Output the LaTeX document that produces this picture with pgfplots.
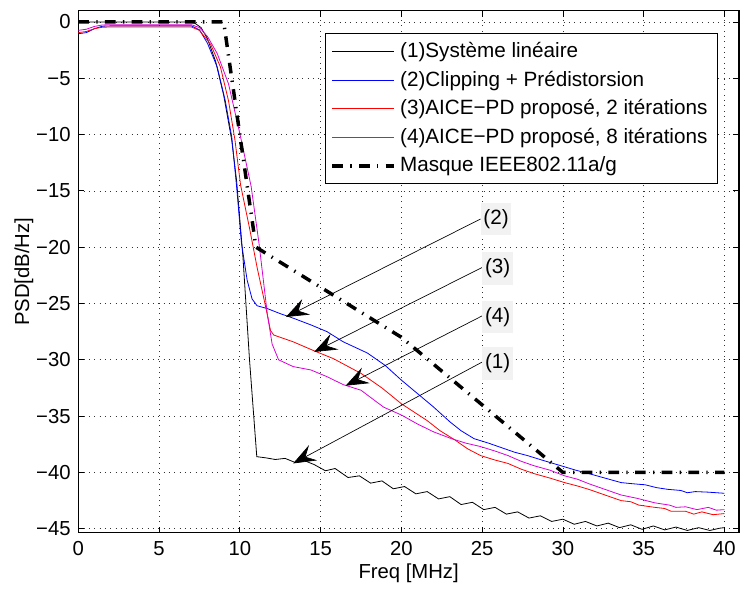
\documentclass[border=0pt]{standalone}
\usepackage{fontspec}
\setmainfont{Liberation Sans}
\usepackage{pgfplots}
\pgfplotsset{compat=1.18}
\usetikzlibrary{arrows.meta}
\definecolor{cblue}{RGB}{0,0,255}
\definecolor{cred}{RGB}{255,0,0}
\definecolor{pmagenta}{RGB}{215,0,215}
\definecolor{lblbg}{RGB}{242,242,242}
\newcommand{\ff}{\fontsize{15.2}{18}\selectfont}
\newcommand{\fl}{\fontsize{15.5}{18}\selectfont}
\begin{document}
\ff
\begin{tikzpicture}
\path[use as bounding box] (-58.7pt,-41.5pt) rectangle (501.5pt,399.5pt);
\begin{axis}[
  scale only axis, width=495.5pt, height=391.5pt,
  xmin=0, xmax=40.9, ymin=-45.35, ymax=1,
  xtick={0,5,...,40}, ytick={-45,-40,...,0},
  yticklabels={−45,−40,−35,−30,−25,−20,−15,−10,−5,0},
  /pgf/number format/assume math mode=true,
  tick label style={font=\ff},
  label style={font=\ff},
  xticklabel style={yshift=-1pt},
  yticklabel style={xshift=-0.5pt},
  grid=major,
  major grid style={black!80, line width=0.5pt, dash pattern=on 0.6pt off 3.4pt},
  axis line style={line width=0.8pt},
  tick style={black, line width=0.6pt},
  tick align=inside, major tick length=4.5pt,
  xlabel={Freq [MHz]}, ylabel={PSD[dB/Hz]},
  xlabel style={at={(axis description cs:0.5,-0.0772)}, anchor=center},
  ylabel style={at={(axis description cs:-0.0822,0.5)}, anchor=center},
  legend cell align=left,
  legend style={at={(0.9682,0.9567)}, anchor=north east, draw=black, line width=0.8pt,
    font=\fl, inner xsep=4pt, inner ysep=2.5pt, row sep=0pt,
    nodes={inner xsep=3.5pt, inner ysep=3.9pt}},
  legend image code/.code={\draw[#1] (0pt,0pt) -- (46pt,0pt);},
]
\addplot[color=black, draw=black, line width=0.6pt] coordinates {
(0,0) (6.8,0) (7.2,-0.1) (7.6,-0.5) (8.0,-1.5) (8.5,-3.5) (9.0,-6.5) (9.5,-10.5)
(9.8,-14.1) (10.2,-21) (10.6,-30) (11.05,-38.6)
(11.6,-38.7) (12.2,-38.85) (12.8,-38.75) (13.4,-39.1) (14.0,-38.95) (14.6,-39.3)
(15.3,-39.85) (15.9,-39.65) (16.7,-40.45) (17.4,-40.3) (18.1,-40.95) (18.8,-40.75)
(19.5,-41.45) (20.2,-41.25) (20.9,-41.9) (21.6,-41.7) (22.3,-42.35) (23.0,-42.15)
(23.7,-42.85) (24.4,-42.65) (25.1,-43.3) (25.8,-43.1) (26.5,-43.7) (27.2,-43.5)
(27.9,-44.05) (28.6,-43.85) (29.3,-44.35) (30.0,-44.15) (30.7,-44.6) (31.4,-44.35)
(32.1,-44.75) (32.8,-44.5) (33.5,-44.9) (34.2,-44.65) (34.9,-45.05) (35.6,-44.75)
(36.3,-45.1) (37.0,-44.85) (37.7,-45.15) (38.4,-44.9) (39.1,-45.15) (39.7,-44.95) (40.0,-44.9)
};
\addlegendentry{(1)Système linéaire}
\addplot[color=cblue, draw=cblue, line width=0.6pt] coordinates {
(0,-1.05) (0.5,-0.95) (1.0,-0.6) (1.5,-0.38) (2,-0.35) (7,-0.35) (7.5,-0.7)
(8.0,-1.9) (8.6,-4.0) (9.1,-7.0) (9.5,-10.2) (9.8,-14.6) (10.1,-19.6) (10.45,-22.9)
(10.76,-24.6) (11.07,-25.2) (11.7,-25.45) (12.5,-25.9) (13.3,-26.3) (14.4,-26.9)
(15.4,-27.5) (16.4,-28.4) (17.9,-29.4) (19.0,-30.5) (20.0,-31.8) (21.0,-33.0) (22.0,-34.2)
(23.0,-35.5) (23.7,-36.3) (24.5,-37.0) (25.4,-37.4) (26.2,-37.8) (27.0,-38.2) (27.8,-38.5)
(28.7,-38.9) (29.4,-39.2) (30.1,-39.5) (30.8,-39.8) (31.6,-40.1) (32.6,-40.5) (33.6,-40.9)
(34.3,-41.0) (35.1,-41.1) (35.8,-41.35) (36.5,-41.5) (37.3,-41.6) (37.7,-41.8) (38.2,-41.7)
(39.0,-41.75) (40,-41.85)
};
\addlegendentry{(2)Clipping + Prédistorsion}
\addplot[color=cred, draw=cred, line width=0.6pt] coordinates {
(0,-0.95) (0.5,-0.85) (1.0,-0.6) (1.5,-0.47) (2,-0.45) (7,-0.45) (7.5,-0.75)
(8.2,-2.0) (8.8,-4.0) (9.3,-7.0) (9.7,-10.5) (10.05,-14.5) (10.6,-18.3) (11.07,-21.8)
(11.6,-25.3) (11.9,-27.4) (12.1,-27.8) (13.3,-28.4) (14.6,-29.2) (15.8,-29.9) (17.1,-30.9)
(17.5,-31.2) (18.8,-32.5) (20.0,-33.9) (21.6,-35.4) (22.4,-36.3) (23.3,-37.1) (24.1,-37.9)
(24.9,-38.5) (25.8,-38.9) (26.6,-39.2) (27.4,-39.7) (28.2,-40.1) (29.2,-40.5) (30.1,-40.9)
(30.9,-41.2) (31.6,-41.5) (32.6,-42.0) (33.6,-42.5) (34.2,-42.6) (34.7,-42.9) (35.7,-43.1)
(36.3,-43.2) (36.7,-43.45) (37.6,-43.45) (38.1,-43.7) (38.6,-43.5) (39.3,-43.75) (40,-43.65)
};
\addlegendentry{(3)AICE−PD proposé, 2 itérations}
\addplot[color=pmagenta, draw=pmagenta, line width=0.6pt] coordinates {
(0,-0.75) (0.5,-0.65) (1.0,-0.4) (1.5,-0.27) (2,-0.25) (7,-0.25) (7.5,-0.5)
(8.0,-1.3) (8.6,-2.8) (9.3,-5.5) (10.0,-9.9) (10.7,-14.6) (11.2,-19.8) (11.7,-25.9)
(12.0,-28.6) (12.4,-30.0) (13.3,-30.6) (14.4,-30.9) (15.4,-31.5) (16.4,-32.2) (17.5,-32.7)
(18.9,-34.2) (20.0,-34.9) (21.0,-35.7) (22.0,-36.4) (23.1,-37.0) (24.0,-37.4) (24.9,-37.7)
(25.8,-38.1) (26.6,-38.5) (27.4,-39.0) (28.2,-39.4) (29.2,-39.8) (30.1,-40.3) (30.9,-40.6)
(31.6,-41.0) (32.6,-41.5) (33.6,-42.0) (34.6,-42.3) (35.7,-42.7) (36.6,-42.9) (37.0,-43.1)
(37.6,-43.05) (38.3,-43.3) (39.0,-43.1) (39.5,-43.35) (40,-43.3)
};
\addlegendentry{(4)AICE−PD proposé, 8 itérations}
\addplot[color=black, draw=black, line width=2.6pt, dash pattern=on 8pt off 5.5pt on 1pt off 5.5pt] coordinates {
(0,0) (9,0) (11,-20) (20,-28) (30,-40) (40,-40)
};
\addlegendentry{Masque IEEE802.11a/g}
% annotations
\draw[line width=0.5pt,-{Stealth[length=17pt,width=13pt,inset=6.5pt]}] (axis cs:24.9,-17.5) -- (axis cs:12.85,-26.2);
\draw[line width=0.5pt,-{Stealth[length=17pt,width=13pt,inset=6.5pt]}] (axis cs:25.0,-21.8) -- (axis cs:14.6,-29.3);
\draw[line width=0.5pt,-{Stealth[length=17pt,width=13pt,inset=6.5pt]}] (axis cs:25.0,-26.1) -- (axis cs:16.55,-32.3);
\draw[line width=0.5pt,-{Stealth[length=17pt,width=13pt,inset=6.5pt]}] (axis cs:25.0,-30.2) -- (axis cs:13.3,-39.2);
\node[fill=lblbg, anchor=west, inner xsep=2pt, minimum height=21pt, font=\fl] at (axis cs:24.9,-17.5) {(2)};
\node[fill=lblbg, anchor=west, inner xsep=2pt, minimum height=21pt, font=\fl] at (axis cs:25.0,-21.9) {(3)};
\node[fill=lblbg, anchor=west, inner xsep=2pt, minimum height=21pt, font=\fl] at (axis cs:25.0,-26.2) {(4)};
\node[fill=lblbg, anchor=west, inner xsep=2pt, minimum height=21pt, font=\fl] at (axis cs:25.0,-30.3) {(1)};
\end{axis}
\end{tikzpicture}
\end{document}
